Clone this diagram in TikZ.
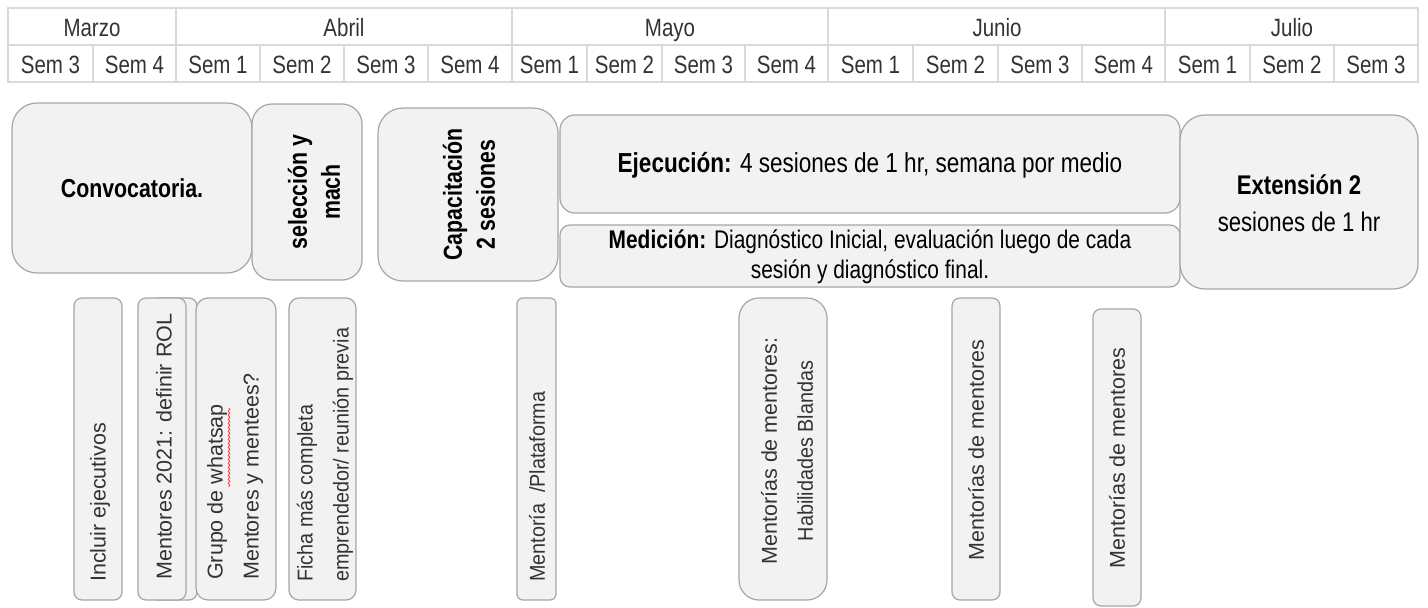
\documentclass[tikz,border=0pt]{standalone}
\usepackage{fontspec}
\setmainfont{Liberation Sans}
\newfontfamily\cnd[FakeStretch=0.82]{Liberation Sans}
\newfontfamily\cndn[FakeStretch=0.92]{Liberation Sans}
\usetikzlibrary{decorations.pathmorphing}
\definecolor{boxfill}{HTML}{F2F2F2}
\definecolor{boxline}{HTML}{A6A6A6}
\definecolor{gridc}{HTML}{D9D9D9}
\definecolor{txt}{HTML}{333333}
\begin{document}
\begin{tikzpicture}[x=1pt,y=-1pt,
  box/.style={draw=boxline, fill=boxfill, line width=1.2pt, inner sep=0pt},
  hdr/.style={font={\cnd\fontsize{25}{30}\selectfont}, text=txt, inner sep=0pt, anchor=base},
  big/.style={font={\cnd\fontsize{26}{33}\selectfont}, text=black, inner sep=0pt, align=center},
  note/.style={font={\fontsize{21.5}{36}\selectfont}, text=txt, inner sep=0pt, rotate=90},
  cnote/.style={font={\cndn\fontsize{21.5}{36}\selectfont}, text=txt, inner sep=0pt, rotate=90},
  gridline/.style={draw=gridc, line width=1.5pt}]
\useasboundingbox (0,0) rectangle (1428,608);
\fill[white] (0,0) rectangle (1428,608);

% ---------- header table ----------
\draw[gridline] (8,8) rectangle (1418,82);
\draw[gridline] (8,45) -- (1418,45);
\foreach \x in {176,512,828,1165} \draw[gridline] (\x,8) -- (\x,82);
\foreach \x in {93,260,344,428,587,662,745,913,998,1082,1250,1334} \draw[gridline] (\x,45) -- (\x,82);

\node[hdr] (mMar) at (92,36) {Marzo};
\node[hdr] (mAbr) at (344,36) {Abril};
\node[hdr] (mMay) at (670,36) {Mayo};
\node[hdr] (mJun) at (997,36) {Junio};
\node[hdr] (mJul) at (1292,36) {Julio};

\node[hdr] (w1) at (50.5,73) {Sem 3};
\node[hdr] (w2) at (134.5,73) {Sem 4};
\node[hdr] (w3) at (218,73) {Sem 1};
\node[hdr] (w4) at (302,73) {Sem 2};
\node[hdr] (w5) at (386,73) {Sem 3};
\node[hdr] (w6) at (470,73) {Sem 4};
\node[hdr] (w7) at (549.5,73) {Sem 1};
\node[hdr] (w8) at (624.5,73) {Sem 2};
\node[hdr] (w9) at (703.5,73) {Sem 3};
\node[hdr] (w10) at (786.5,73) {Sem 4};
\node[hdr] (w11) at (870.5,73) {Sem 1};
\node[hdr] (w12) at (955.5,73) {Sem 2};
\node[hdr] (w13) at (1040,73) {Sem 3};
\node[hdr] (w14) at (1123.5,73) {Sem 4};
\node[hdr] (w15) at (1207.5,73) {Sem 1};
\node[hdr] (w16) at (1292,73) {Sem 2};
\node[hdr] (w17) at (1376,73) {Sem 3};

% ---------- phase boxes ----------
\node[box, rounded corners=25pt, minimum width=240pt, minimum height=170pt] (conv) at (132,188) {};
\node[box, rounded corners=20pt, minimum width=110pt, minimum height=176pt] (sel) at (307,192) {};
\node[box, rounded corners=25pt, minimum width=180pt, minimum height=173pt] (cap) at (468,194.5) {};
\node[box, rounded corners=15pt, minimum width=620pt, minimum height=98pt] (eje) at (870,164) {};
\node[box, rounded corners=10pt, minimum width=620pt, minimum height=62pt] (med) at (870,256) {};
\node[box, rounded corners=25pt, minimum width=238pt, minimum height=174pt] (ext) at (1299,202) {};

\node[big] (convt) at (conv) {\bfseries Convocatoria.};
\node[big, rotate=90] (selt) at (314,192) {\bfseries selección y\\\bfseries mach};
\node[big, rotate=90] (capt) at (469,194.5) {\bfseries Capacitación\\\bfseries 2 sesiones};
\node[big, font={\cnd\fontsize{27.5}{33}\selectfont}] (ejet) at (870,165) {\textbf{Ejecución:} 4 sesiones de 1 hr, semana por medio};
\node[big, font={\cnd\fontsize{25.5}{30}\selectfont}] (medt) at (870,257) {\textbf{Medición:} Diagnóstico Inicial, evaluación luego de cada\\sesión y diagnóstico final.};
\node[big, font={\cnd\fontsize{27}{37}\selectfont}] (extt) at (1299,203) {\textbf{Extensión 2}\\sesiones de 1 hr};

% ---------- note boxes ----------
\node[box, rounded corners=8pt, minimum width=48pt, minimum height=302pt] (inc) at (98,449) {};
\node[box, rounded corners=8pt, minimum width=48pt, minimum height=302pt] (menb) at (173,449) {};
\node[box, rounded corners=8pt, minimum width=48pt, minimum height=302pt] (men) at (162,449) {};
\node[box, rounded corners=12pt, minimum width=80pt, minimum height=302pt] (gru) at (236,449) {};
\node[box, rounded corners=10pt, minimum width=67pt, minimum height=302pt] (fic) at (322.5,449) {};
\node[box, rounded corners=6pt, minimum width=39pt, minimum height=302pt] (mpl) at (536.5,449) {};
\node[box, rounded corners=20pt, minimum width=88pt, minimum height=302pt] (hab) at (783,449) {};
\node[box, rounded corners=8pt, minimum width=48pt, minimum height=302pt] (mm1) at (976,449) {};
\node[box, rounded corners=8pt, minimum width=48pt, minimum height=297pt] (mm2) at (1117,457.5) {};

\node[note, anchor=west] (inct) at (100,582) {Incluir ejecutivos};
\node[note, anchor=west] (ment) at (164,580) {Mentores 2021: definir ROL};
\node[note, anchor=west, align=left] (grut) at (235,580) {Grupo de whatsap\\Mentores y mentees?};
\node[cnote, anchor=west, align=left] (fict) at (325,582) {Ficha más completa\\emprendedor/ reunión previa};
\node[cnote, anchor=west] (mplt) at (537,582) {Mentoría \ /Plataforma};
\node[note, align=center] (habt) at (787,451) {Mentorías de mentores:\\{\cndn Habilidades Blandas}};
\node[note] (mm1t) at (976,450) {Mentorías de mentores};
\node[note] (mm2t) at (1117,458) {Mentorías de mentores};

\draw[red!75, line width=0.8pt, decorate, decoration={snake, amplitude=0.9pt, segment length=4pt}] (229,408) -- (229,487);
\end{tikzpicture}
\end{document}
